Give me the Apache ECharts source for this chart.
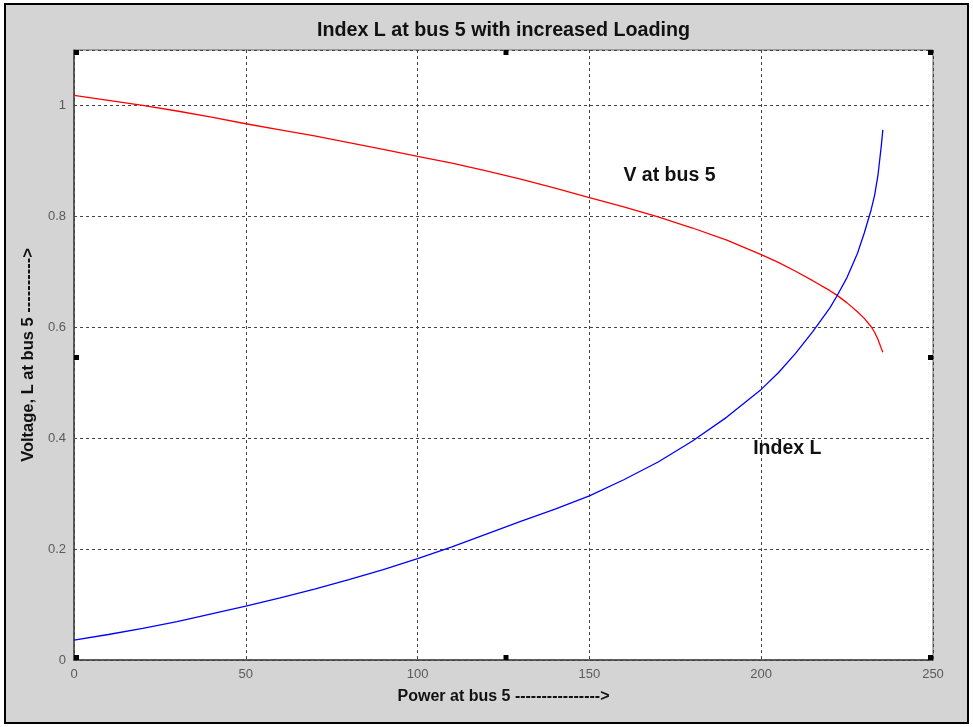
<!DOCTYPE html>
<html>
<head>
<meta charset="utf-8">
<script src="https://cdn.jsdelivr.net/npm/echarts@6/dist/echarts.min.js"></script>
<style>
  html, body { margin: 0; padding: 0; background: #ffffff; }
  #chart { width: 973px; height: 727px; }
</style>
</head>
<body>
<div id="chart"></div>
<script>
// Load sweep at bus 5: power, bus voltage and the L index
const power = [0, 10, 20, 30, 40, 50, 60, 70, 80, 90, 100, 110, 120, 130, 140, 150,
  160, 170, 180, 190, 200, 205, 210, 215, 220, 222, 225, 228, 230, 232, 233, 234, 235, 235.4];
const voltage = [1.018, 1.009, 1.000, 0.990, 0.979, 0.967, 0.956, 0.945, 0.933, 0.921, 0.908,
  0.896, 0.882, 0.867, 0.851, 0.834, 0.817, 0.799, 0.779, 0.757, 0.731, 0.717, 0.701, 0.684,
  0.666, 0.658, 0.644, 0.628, 0.616, 0.601, 0.591, 0.578, 0.561, 0.555];
const indexL = [0.036, 0.046, 0.057, 0.069, 0.083, 0.097, 0.112, 0.128, 0.145, 0.163, 0.183,
  0.204, 0.227, 0.250, 0.272, 0.296, 0.325, 0.357, 0.395, 0.438, 0.488, 0.518, 0.553, 0.592,
  0.635, 0.656, 0.690, 0.733, 0.770, 0.812, 0.838, 0.875, 0.930, 0.956];

const xTicks = [0, 50, 100, 150, 200, 250];
const yTicks = [0, 0.2, 0.4, 0.6, 0.8, 1];

const titleText = 'Index L at bus 5 with increased Loading';
const xName = 'Power at bus 5 ---------------->';
const yName = 'Voltage, L at bus 5 ---------->';
const vLabel = 'V at bus 5';
const lLabel = 'Index L';

const FONT = '"Liberation Sans", Arial, sans-serif';

const chart = echarts.init(document.getElementById('chart'), null, { renderer: 'canvas' });

function pairs(ys) { return power.map((p, i) => [p, ys[i]]); }

const gridBox = { left: 74, right: 40, top: 50, bottom: 67 };

const option = {
  backgroundColor: '#ffffff',
  animation: false,
  grid: Object.assign({ show: true, backgroundColor: '#ffffff', borderColor: '#666', borderWidth: 1 }, gridBox),
  xAxis: {
    type: 'value',
    min: xTicks[0],
    max: xTicks[xTicks.length - 1],
    interval: 50,
    name: xName,
    nameLocation: 'middle',
    nameGap: 29,
    nameTextStyle: { fontFamily: FONT, fontWeight: 'bold', fontSize: 16, color: '#111' },
    axisLine: { show: true, lineStyle: { color: '#444', width: 1.5 } },
    axisTick: { show: false },
    axisLabel: { fontFamily: FONT, fontSize: 13, color: '#5a5a5a', margin: 8 },
    splitLine: { show: true, lineStyle: { color: '#444', type: [3, 3], width: 1 } }
  },
  yAxis: {
    type: 'value',
    min: yTicks[0],
    max: 1.1,
    interval: 0.2,
    name: yName,
    nameLocation: 'middle',
    nameGap: 32,
    nameTextStyle: { fontFamily: FONT, fontWeight: 'bold', fontSize: 16.5, color: '#111' },
    axisLine: { show: true, lineStyle: { color: '#444', width: 1.5 } },
    axisTick: { show: false },
    axisLabel: {
      fontFamily: FONT, fontSize: 13, color: '#5a5a5a', margin: 8,
      formatter: v => (yTicks.some(t => Math.abs(t - v) < 1e-9) ? String(+v.toFixed(1)) : '')
    },
    splitLine: { show: true, lineStyle: { color: '#444', type: [3, 3], width: 1 } }
  },
  series: [
    {
      name: vLabel,
      type: 'line',
      data: pairs(voltage),
      showSymbol: false,
      smooth: false,
      lineStyle: { color: '#ff0000', width: 1.3 },
      markPoint: {
        symbol: 'circle', symbolSize: 0,
        label: { show: true, formatter: vLabel, fontFamily: FONT, fontWeight: 'bold', fontSize: 19.5, color: '#111' },
        data: [{ coord: [173.3, 0.874] }]
      }
    },
    {
      name: lLabel,
      type: 'line',
      data: pairs(indexL),
      showSymbol: false,
      smooth: false,
      lineStyle: { color: '#0000ff', width: 1.3 },
      markPoint: {
        symbol: 'circle', symbolSize: 0,
        label: { show: true, formatter: lLabel, fontFamily: FONT, fontWeight: 'bold', fontSize: 19.5, color: '#111' },
        data: [{ coord: [207.6, 0.381] }]
      }
    }
  ]
};

chart.setOption(option);

// Figure frame, title centred over the axes box, and the small square handles
function decorate() {
  const w = chart.getWidth(), h = chart.getHeight();
  const gx0 = gridBox.left, gx1 = w - gridBox.right;
  const gy0 = gridBox.top, gy1 = h - gridBox.bottom;
  const gxm = (gx0 + gx1) / 2, gym = (gy0 + gy1) / 2;
  const s = 5;
  const spots = [
    [gx0, gy0], [gxm, gy0], [gx1 - s, gy0],
    [gx0, gym], [gx1 - s, gym],
    [gx0, gy1 - s], [gxm, gy1 - s], [gx1 - s, gy1 - s]
  ];
  const handles = spots.map(([x, y]) => ({
    type: 'rect', silent: true, z: 100,
    shape: { x: x, y: y, width: s, height: s },
    style: { fill: '#000' }
  }));
  chart.setOption({
    graphic: [
      {
        type: 'rect', silent: true, z: -10,
        shape: { x: 5, y: 4, width: w - 10, height: h - 8 },
        style: { fill: '#d4d4d4', stroke: '#000', lineWidth: 2 }
      },
      {
        type: 'text', silent: true, z: 50,
        x: gxm, y: 31,
        style: {
          text: titleText, fill: '#111',
          font: 'bold 19.7px ' + FONT,
          textAlign: 'center', textVerticalAlign: 'middle'
        }
      }
    ].concat(handles)
  });
}
decorate();
</script>
</body>
</html>
